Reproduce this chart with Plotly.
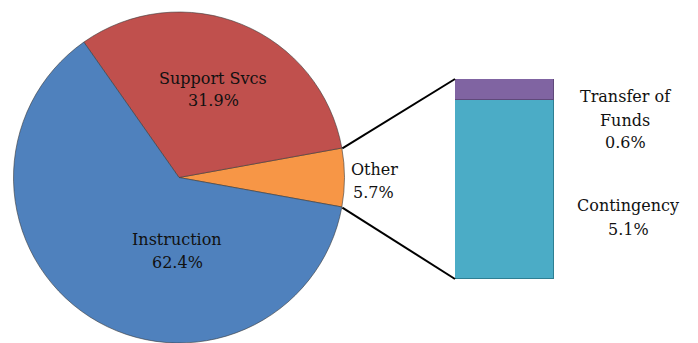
import math
import plotly.graph_objects as go

# Budget shares (percent)
pie_labels = ["Other", "Support Svcs", "Instruction"]
pie_values = [5.7, 31.9, 62.4]
pie_colors = ["#F79646", "#C0504D", "#4F81BD"]

other_labels = ["Contingency", "Transfer of Funds"]
other_values = [5.1, 0.6]
other_colors = ["#4BACC6", "#8064A2"]
other_line = ["#2E7F93", "#5F497A"]

W, H = 698, 343
FONT = "DejaVu Serif"
TXT = "#111111"

# Pie placement (pixels)
pie_left, pie_right = 13, 345
pie_bottom_px, pie_top_px = 344, 12  # y measured from top
r_px = (pie_right - pie_left) / 2
cx_px = (pie_left + pie_right) / 2
cy_px = (pie_top_px + pie_bottom_px) / 2

# Bar placement (pixels)
bar_left, bar_right = 455, 554
bar_top, bar_bottom = 79, 279


def px(x):
    return x / W


def py(y):
    return 1 - y / H


other_total = sum(other_values)
half_angle = pie_values[0] / sum(pie_values) * 360 / 2

fig = go.Figure()
fig.add_trace(go.Pie(
    labels=pie_labels,
    values=pie_values,
    sort=False,
    direction="counterclockwise",
    rotation=90 - half_angle,
    marker=dict(colors=pie_colors, line=dict(color="#3a3a3a", width=0.6)),
    textinfo="none",
    hoverinfo="label+percent",
    showlegend=False,
    domain=dict(x=[px(pie_left), px(pie_right)],
                y=[max(0, py(pie_bottom_px)), py(pie_top_px)]),
))

for lab, val, col, lc in zip(other_labels, other_values, other_colors, other_line):
    fig.add_trace(go.Bar(
        x=[0], y=[val], name=lab, width=1,
        marker=dict(color=col, line=dict(color=lc, width=1)),
        showlegend=False, xaxis="x", yaxis="y",
    ))

# Connector lines from the Other slice edge to the stacked bar
a = math.radians(half_angle)
edge_top = (cx_px + r_px * math.cos(a), cy_px - r_px * math.sin(a))
edge_bot = (cx_px + r_px * math.cos(a), cy_px + r_px * math.sin(a))
shapes = [
    dict(type="line", xref="paper", yref="paper",
         x0=px(edge_top[0]), y0=py(edge_top[1]), x1=px(bar_left), y1=py(bar_top),
         line=dict(color="black", width=2)),
    dict(type="line", xref="paper", yref="paper",
         x0=px(edge_bot[0]), y0=py(edge_bot[1]), x1=px(bar_left), y1=py(bar_bottom),
         line=dict(color="black", width=2)),
]

# Data labels, one text line per annotation: (x, y, text)
label_lines = [
    (213, 77, pie_labels[1]), (213, 100, f"{pie_values[1]}%"),
    (177, 238, pie_labels[2]), (177, 261, f"{pie_values[2]}%"),
    (374, 168, pie_labels[0]), (373, 191, f"{pie_values[0]}%"),
    (625, 95, "Transfer of"), (625, 119, "Funds"), (625, 141, f"{other_values[1]}%"),
    (628, 205, other_labels[0]), (628, 228, f"{other_values[0]}%"),
]
font = dict(family=FONT, size=16, color=TXT)
annotations = [
    dict(x=px(x), y=py(y + 1), text=t, xref="paper", yref="paper",
         showarrow=False, font=font, xanchor="center", yanchor="middle")
    for x, y, t in label_lines
]

fig.update_layout(
    width=W, height=H,
    margin=dict(l=0, r=0, t=0, b=0),
    paper_bgcolor="white", plot_bgcolor="white",
    font=dict(family=FONT),
    barmode="stack", bargap=0,
    xaxis=dict(domain=[px(bar_left), px(bar_right)], range=[-0.5, 0.5],
               visible=False, fixedrange=True),
    yaxis=dict(domain=[py(bar_bottom), py(bar_top)], range=[0, other_total],
               visible=False, fixedrange=True),
    shapes=shapes,
    annotations=annotations,
)

fig.write_html("out.html")
